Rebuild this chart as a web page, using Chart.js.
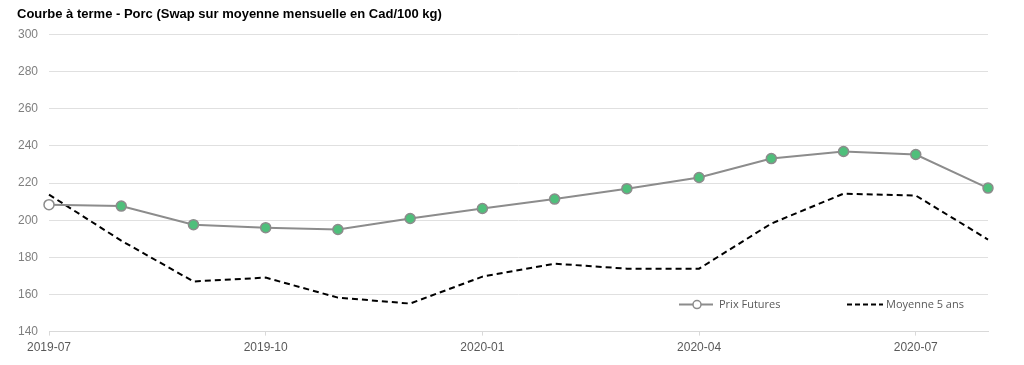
<!DOCTYPE html>
<html>
<head>
<meta charset="utf-8">
<script src="https://cdn.jsdelivr.net/npm/chart.js@4"></script>
<style>
  html, body { margin: 0; padding: 0; background: #fff; }
  #wrap { width: 1024px; height: 365px; position: relative; }
</style>
</head>
<body>
<div id="wrap"><canvas id="chart"></canvas></div>
<script>
const months = ['2019-07', '2019-08', '2019-09', '2019-10', '2019-11', '2019-12',
    '2020-01', '2020-02', '2020-03', '2020-04', '2020-05', '2020-06', '2020-07', '2020-08'];
const prixFutures = [208.4, 207.6, 197.6, 196.0, 195.0, 200.9, 206.3, 211.4, 217.0, 223.0, 233.2, 237.0, 235.4, 217.3];
const moyenne5ans = [213.8, 189.0, 167.0, 169.1, 158.3, 155.1, 169.6, 176.6, 173.9, 173.9, 198.2, 214.3, 213.3, 189.6];
const yTicks = [140, 160, 180, 200, 220, 240, 260, 280, 300];

const lineGray = '#8c8c8c';
const pointGreen = '#4fbf7b';
const textGray = '#595959';

// legend drawn inside the plot area, bottom right
const innerLegend = {
    id: 'innerLegend',
    afterDraw(chart) {
        const ctx = chart.ctx;
        const y = chart.chartArea.bottom - 27;
        ctx.save();
        ctx.font = '11px "Open Sans", sans-serif';
        ctx.fillStyle = textGray;
        ctx.textBaseline = 'middle';

        // Prix Futures
        ctx.strokeStyle = lineGray;
        ctx.lineWidth = 2;
        ctx.beginPath();
        ctx.moveTo(679, y);
        ctx.lineTo(713, y);
        ctx.stroke();
        ctx.beginPath();
        ctx.arc(697, y, 4, 0, Math.PI * 2);
        ctx.fillStyle = '#fff';
        ctx.fill();
        ctx.lineWidth = 1.5;
        ctx.stroke();
        ctx.fillStyle = textGray;
        ctx.fillText('Prix Futures', 719, y);

        // Moyenne 5 ans
        ctx.strokeStyle = '#000';
        ctx.lineWidth = 2;
        ctx.setLineDash([5, 3]);
        ctx.beginPath();
        ctx.moveTo(847, y);
        ctx.lineTo(883, y);
        ctx.stroke();
        ctx.setLineDash([]);
        ctx.fillText('Moyenne 5 ans', 886, y);
        ctx.restore();
    }
};

new Chart(document.getElementById('chart'), {
    type: 'line',
    data: {
        labels: months,
        datasets: [{
            label: 'Prix Futures',
            data: prixFutures,
            borderColor: lineGray,
            borderWidth: 2,
            pointRadius: 5,
            pointHoverRadius: 5,
            pointBorderWidth: 1.5,
            pointBorderColor: lineGray,
            pointBackgroundColor: prixFutures.map((v, i) => i === 0 ? '#fff' : pointGreen),
            tension: 0
        }, {
            label: 'Moyenne 5 ans',
            data: moyenne5ans,
            borderColor: '#000',
            borderWidth: 2,
            borderDash: [6, 4],
            pointRadius: 0,
            tension: 0
        }]
    },
    options: {
        responsive: true,
        maintainAspectRatio: false,
        animation: false,
        layout: {
            padding: { left: 17, right: 36, top: 0, bottom: 5 }
        },
        plugins: {
            legend: { display: false },
            tooltip: { enabled: false },
            title: {
                display: true,
                text: 'Courbe à terme - Porc (Swap sur moyenne mensuelle en Cad/100 kg)',
                align: 'start',
                color: '#000',
                font: { family: '"Liberation Sans", Arial, sans-serif', size: 13, weight: 'bold' },
                padding: { top: 7, bottom: 12 }
            }
        },
        scales: {
            x: {
                offset: false,
                border: { display: true, color: '#d9d9d9' },
                grid: {
                    drawOnChartArea: false,
                    tickLength: 4,
                    color: (c) => c.index % 3 === 0 ? '#d9d9d9' : 'rgba(0,0,0,0)'
                },
                ticks: {
                    autoSkip: false,
                    maxRotation: 0,
                    color: textGray,
                    font: { family: '"Liberation Sans", Arial, sans-serif', size: 12 },
                    padding: 5,
                    callback: function (value, index) {
                        return index % 3 === 0 ? months[index] : '';
                    }
                }
            },
            y: {
                min: yTicks[0],
                max: yTicks[yTicks.length - 1],
                border: { display: false },
                grid: { color: '#e0e0e0', drawTicks: false },
                afterBuildTicks: (axis) => { axis.ticks = yTicks.map(v => ({ value: v })); },
                afterFit: (axis) => { axis.width = 32; },
                ticks: {
                    color: '#7f7f7f',
                    font: { family: '"Liberation Sans", Arial, sans-serif', size: 12 },
                    padding: 11
                }
            }
        }
    },
    plugins: [innerLegend]
});
</script>
</body>
</html>
